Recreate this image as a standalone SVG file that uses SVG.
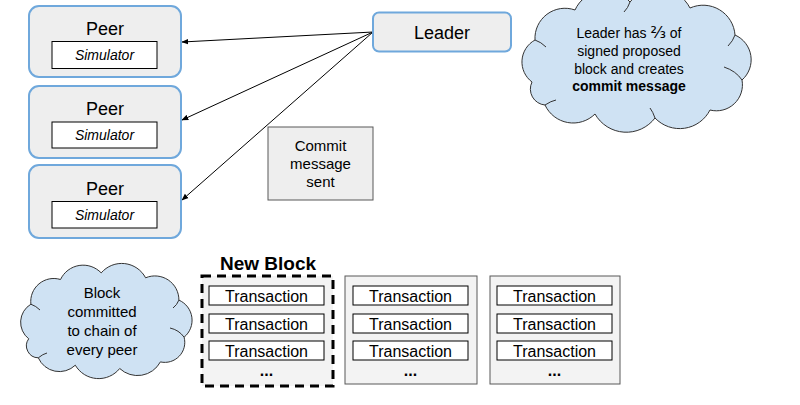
<svg xmlns="http://www.w3.org/2000/svg" width="800" height="405" viewBox="0 0 800 405">
<defs>
<style>
text{font-family:"Liberation Sans",Arial,sans-serif;fill:#000;text-anchor:middle}
.peer{fill:#eeeeee;stroke:#6fa8dc;stroke-width:2}
.sim{fill:#fff;stroke:#000;stroke-width:1}
.tx{fill:#fff;stroke:#000;stroke-width:1}
.blk{fill:#f3f3f3;stroke:#595959;stroke-width:1}
.cloud{fill:#cfe2f3;stroke:#333;stroke-width:1}
.inner{fill:none;stroke:#333;stroke-width:1}
.conn{stroke:#000;stroke-width:1;fill:none;marker-end:url(#ah)}
.t18{font-size:18px}
.t14{font-size:14px}
.t15{font-size:15px}
.t16{font-size:16px}
</style>
<marker id="ah" viewBox="0 0 10 10" refX="9" refY="5" markerWidth="7" markerHeight="7" orient="auto" markerUnits="userSpaceOnUse">
<path d="M0,1 L10,5 L0,9 z" fill="#000"/>
</marker>
</defs>
<rect width="800" height="405" fill="#fff"/>

<g id="connectors">
<line class="conn" x1="373" y1="32" x2="182" y2="42"/>
<line class="conn" x1="373" y1="32" x2="182" y2="120"/>
<line class="conn" x1="373" y1="32" x2="182" y2="200"/>
</g>

<g id="peer1">
<rect class="peer" x="29" y="6" width="152" height="71" rx="10"/>
<text class="t18" x="105" y="35">Peer</text>
<rect class="sim" x="52" y="41.5" width="105" height="27"/>
<text class="t14" x="104.5" y="60" font-style="italic">Simulator</text>
</g>
<g id="peer2">
<rect class="peer" x="29" y="86" width="152" height="72" rx="10"/>
<text class="t18" x="105" y="115">Peer</text>
<rect class="sim" x="52" y="122" width="105" height="26"/>
<text class="t14" x="104.5" y="140" font-style="italic">Simulator</text>
</g>
<g id="peer3">
<rect class="peer" x="29" y="165" width="152" height="73" rx="10"/>
<text class="t18" x="105" y="195">Peer</text>
<rect class="sim" x="52" y="201.5" width="105" height="26.5"/>
<text class="t14" x="104.5" y="220" font-style="italic">Simulator</text>
</g>

<g id="leader">
<rect class="peer" x="373" y="12.5" width="138" height="39" rx="6"/>
<text class="t18" x="442" y="38.5">Leader</text>
</g>

<g id="commit-note">
<rect x="268" y="127" width="105" height="73" fill="#eeeeee" stroke="#595959" stroke-width="1"/>
<text class="t15" x="320.5" y="151">Commit</text>
<text class="t15" x="320.5" y="169">message</text>
<text class="t15" x="320.5" y="187">sent</text>
</g>

<g id="leader-cloud">
<path class="cloud" d="M532,82 A25,25 0 0 1 535,40 A30,30 0 0 1 575,10 A33,33 0 0 1 630,2 A36,36 0 0 1 690,8 A32,32 0 0 1 735,35 A27,27 0 0 1 742,80 A26,26 0 0 1 710,110 A34,34 0 0 1 655,118 A36,36 0 0 1 595,114 A31,31 0 0 1 545,105 A16,16 0 0 1 532,82 Z"/>
<path class="inner" d="M535,40 Q541,42 546,47"/>
<path class="inner" d="M630,2 Q628,8 624,12"/>
<path class="inner" d="M735,35 Q733,41 728,46"/>
<path class="inner" d="M742,80 Q736,71 724,67"/>
<path class="inner" d="M655,118 Q653,112 650,108"/>
<path class="inner" d="M545,105 Q551,101 556,100"/>
<text class="t14" x="629" y="38">Leader has <tspan font-family="'DejaVu Sans',sans-serif" font-size="16">⅔</tspan> of</text>
<text class="t14" x="629" y="56">signed proposed</text>
<text class="t14" x="629" y="74">block and creates</text>
<text class="t14" x="629" y="91" font-weight="bold">commit message</text>
</g>

<g id="block-cloud">
<path class="cloud" d="M28.7,338.8 A21,21 0 0 1 30.9,304.2 A23,23 0 0 1 60.5,279.5 A25,25 0 0 1 101.2,272.9 A27,27 0 0 1 145.6,277.8 A24,24 0 0 1 178.9,300.1 A22,22 0 0 1 184.1,337.2 A20,20 0 0 1 160.4,361.9 A26,26 0 0 1 119.7,368.5 A27,27 0 0 1 75.3,365.2 A23,23 0 0 1 38.3,357.8 A12,12 0 0 1 28.7,338.8 Z"/>
<path class="inner" d="M30.9,304.2 Q36,306 40,310"/>
<path class="inner" d="M178.9,300.1 Q177,305 173,308"/>
<path class="inner" d="M184.1,337.2 Q179,330 170,328"/>
<path class="inner" d="M38.3,357.8 Q43,354 47,353"/>
<text class="t15" x="102" y="298">Block</text>
<text class="t15" x="102" y="317">committed</text>
<text class="t15" x="102" y="336">to chain of</text>
<text class="t15" x="102" y="355">every peer</text>
</g>

<g id="new-block">
<text x="268" y="270" font-size="19" font-weight="bold">New Block</text>
<rect x="202" y="276" width="131" height="110" fill="#f3f3f3" stroke="#000" stroke-width="3" stroke-dasharray="9,6"/>
<rect class="tx" x="209" y="286" width="115" height="19"/>
<text class="t16" x="266.5" y="301.5">Transaction</text>
<rect class="tx" x="209" y="314" width="115" height="19"/>
<text class="t16" x="266.5" y="329.5">Transaction</text>
<rect class="tx" x="209" y="341" width="115" height="19"/>
<text class="t16" x="266.5" y="356.5">Transaction</text>
<text class="t16" x="266.5" y="376" font-weight="bold">...</text>
</g>

<g id="block2">
<rect class="blk" x="345" y="276" width="132" height="108"/>
<rect class="tx" x="353" y="286" width="115" height="19"/>
<text class="t16" x="410.5" y="301.5">Transaction</text>
<rect class="tx" x="353" y="314" width="115" height="19"/>
<text class="t16" x="410.5" y="329.5">Transaction</text>
<rect class="tx" x="353" y="341" width="115" height="19"/>
<text class="t16" x="410.5" y="356.5">Transaction</text>
<text class="t16" x="410.5" y="376" font-weight="bold">...</text>
</g>

<g id="block3">
<rect class="blk" x="490" y="276" width="130" height="108"/>
<rect class="tx" x="497" y="286" width="115" height="19"/>
<text class="t16" x="554.5" y="301.5">Transaction</text>
<rect class="tx" x="497" y="314" width="115" height="19"/>
<text class="t16" x="554.5" y="329.5">Transaction</text>
<rect class="tx" x="497" y="341" width="115" height="19"/>
<text class="t16" x="554.5" y="356.5">Transaction</text>
<text class="t16" x="554.5" y="376" font-weight="bold">...</text>
</g>
</svg>
